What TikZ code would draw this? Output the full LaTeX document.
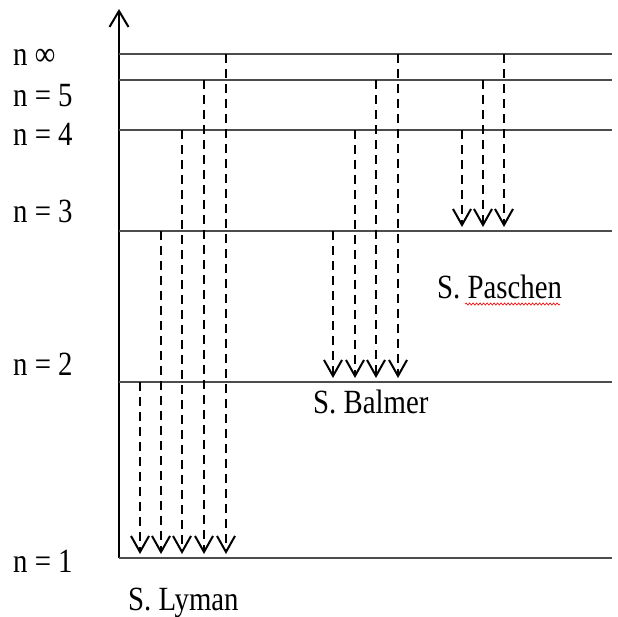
\documentclass[tikz,border=0pt]{standalone}
\usepackage{fontspec}
\usepackage{graphicx}
\setmainfont{Liberation Serif}
\usetikzlibrary{arrows.meta,decorations.pathmorphing}
\newcommand{\tallText}[1]{\scalebox{0.96}[1.13]{#1}}
\begin{document}
\begin{tikzpicture}[x=1pt,y=-1pt,
  level/.style={draw=black!70,line width=2pt},
  axisline/.style={draw=black,line width=2.4pt,-{Straight Barb[length=16pt,width=19pt,line width=2pt]}},
  transition/.style={draw=black,line width=2.1pt,dash pattern=on 9pt off 6pt,
    -{Straight Barb[length=16pt,width=18pt,line width=2pt]}},
  lbl/.style={font=\fontsize{30}{32}\selectfont,inner sep=0pt,anchor=base west},
  squiggle/.style={draw=red,line width=0.6pt,decorate,
    decoration={snake,amplitude=1.1pt,segment length=3.5pt}}]
\useasboundingbox (0,0) rectangle (618,616);

% energy levels: left end on the axis, right end at the edge
\foreach \n/\y in {inf/54,5/80,4/130,3/231,2/382,1/558}{
  \coordinate (L\n) at (119,\y);
  \coordinate (R\n) at (612,\y);
}
\coordinate (top) at (119,9);
\draw[axisline] (L1) -- (top);
\foreach \n in {inf,5,4,3,2,1}
  \draw[level] (L\n) -- (R\n);

% level labels
\node[lbl] (tinf) at (13,65) {\tallText{n ∞}};
\node[lbl] (t5) at (13,106) {\tallText{n = 5}};
\node[lbl] (t4) at (13,145) {\tallText{n = 4}};
\node[lbl] (t3) at (13,222) {\tallText{n = 3}};
\node[lbl] (t2) at (13,375) {\tallText{n = 2}};
\node[lbl] (t1) at (13,572) {\tallText{n = 1}};

% Lyman series: down to n = 1
\foreach \x/\n in {140/2,161/3,182/4,204/5,226/inf}{
  \coordinate (ly\n) at (\x,554);
  \draw[transition] (\x,0 |- L\n) -- (ly\n);
}
% Balmer series: down to n = 2
\foreach \x/\n in {333/3,355/4,376/5,398/inf}{
  \coordinate (ba\n) at (\x,378);
  \draw[transition] (\x,0 |- L\n) -- (ba\n);
}
% Paschen series: down to n = 3
\foreach \x/\n in {462/4,483/5,504/inf}{
  \coordinate (pa\n) at (\x,227);
  \draw[transition] (\x,0 |- L\n) -- (pa\n);
}

% series names
\node[lbl] (lyman) at (128,610) {\tallText{S. Lyman}};
\node[lbl] (balmer) at (313,413) {\tallText{S. Balmer}};
\node[lbl] (paschen) at (437,298) {\tallText{S. Paschen}};
\coordinate (sq1) at (465,304);
\coordinate (sq2) at (560,304);
\draw[squiggle] (sq1) -- (sq2);
\end{tikzpicture}
\end{document}
